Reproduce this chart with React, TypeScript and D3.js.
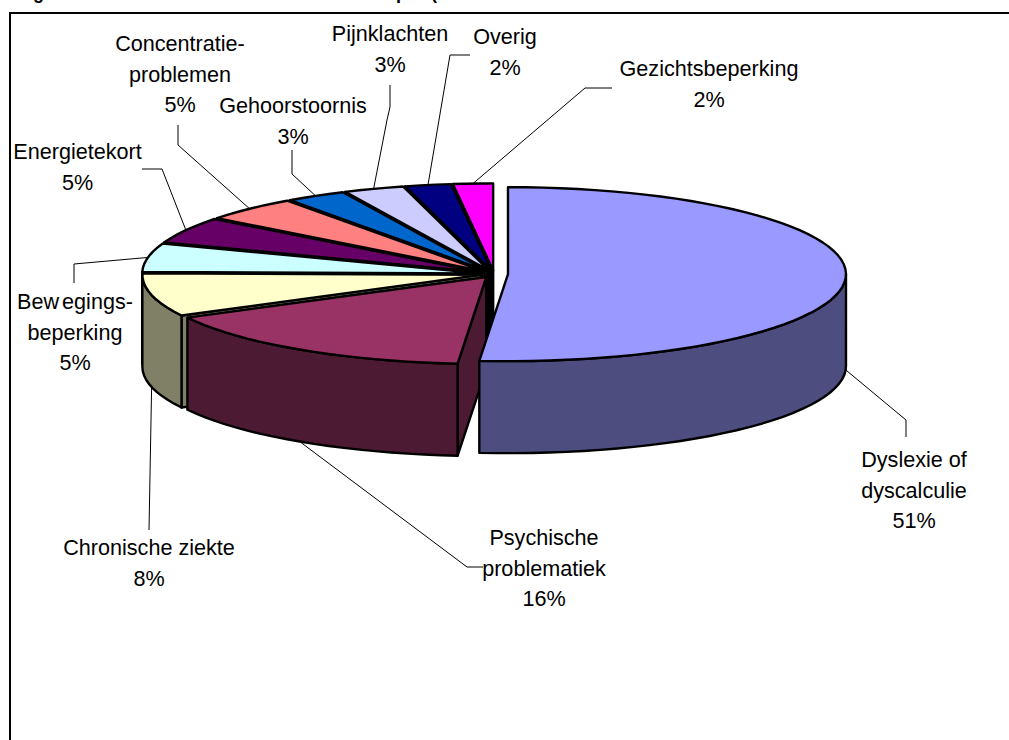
import React, { useEffect, useRef } from "react";
import * as d3 from "d3";

const categories = [
  "Dyslexie of dyscalculie",
  "Psychische problematiek",
  "Chronische ziekte",
  "Bewegingsbeperking",
  "Energietekort",
  "Concentratieproblemen",
  "Gehoorstoornis",
  "Pijnklachten",
  "Overig",
  "Gezichtsbeperking",
];
const values = [51.3, 15.9, 8.0, 5.3, 4.9, 4.6, 2.9, 2.9, 2.2, 1.9];
const percentLabels = ["51%", "16%", "8%", "5%", "5%", "5%", "3%", "3%", "2%", "2%"];
const labelLines = [
  ["Dyslexie of", "dyscalculie"],
  ["Psychische", "problematiek"],
  ["Chronische ziekte"],
  ["Bew egings-", "beperking"],
  ["Energietekort"],
  ["Concentratie-", "problemen"],
  ["Gehoorstoornis"],
  ["Pijnklachten"],
  ["Overig"],
  ["Gezichtsbeperking"],
];
const topColors = ["#9999FF", "#993366", "#FFFFCC", "#CCFFFF", "#660066", "#FF8080", "#0066CC", "#CCCCFF", "#000080", "#FF00FF"];
const sideColors = ["#4D4D80", "#4D1A33", "#808066", "#668080", "#330033", "#804040", "#003366", "#666680", "#000040", "#800080"];

// where each label sits and how its leader bends on the way there
const labelPlace = [
  { x: 914, y: 467, bend: [[906, 420], [906, 437]] },
  { x: 544, y: 545, bend: [[467, 567], [483, 567]] },
  { x: 149, y: 555, bend: [[149, 530]] },
  { x: 75, y: 309, bend: [[74, 264], [74, 283]] },
  { x: 77.5, y: 159, bend: [[162, 169], [142, 169]] },
  { x: 180, y: 51, bend: [[178, 145], [178, 125]] },
  { x: 293, y: 113, bend: [[292, 174], [292, 150]] },
  { x: 390, y: 41, bend: [[387, 120], [390, 107], [390, 85]] },
  { x: 505, y: 44, bend: [[450, 55], [470, 55]] },
  { x: 709, y: 76, bend: [[585, 88], [612, 88]] },
];

const width = 1009;
const height = 740;
const cx = 494;
const cy = 274;
const rx = 338;
const ry = 87;
const depth = 92;
const explode = 14;
const lineGap = 30.7;

export default function App() {
  const svgRef = useRef<SVGSVGElement>(null);

  useEffect(() => {
    const svg = d3.select(svgRef.current);
    svg.selectAll("*").remove();

    const arcs = d3.pie<number>().sort(null)(values);
    const deg = Math.PI / 180;
    const line = d3.line();

    // centre of a slice after pulling it out along its middle angle
    const apex = (a) => {
      const mid = (a.startAngle + a.endAngle) / 2;
      return [cx + explode * Math.sin(mid), cy - explode * Math.cos(mid) * (ry / rx)];
    };
    const rim = (c, angle, drop = 0) => [
      c[0] + rx * Math.sin(angle),
      c[1] - ry * Math.cos(angle) + drop,
    ];
    const sweep = (from, to) => {
      const steps = Math.max(1, Math.ceil((to - from) / (3 * deg)));
      return d3.range(steps + 1).map((i) => from + ((to - from) * i) / steps);
    };

    const face = (pts, fill) =>
      svg
        .append("path")
        .attr("d", line(pts) + "Z")
        .attr("fill", fill)
        .attr("stroke", "#000")
        .attr("stroke-width", 2.4)
        .attr("stroke-linejoin", "round");

    svg
      .append("rect")
      .attr("x", 10)
      .attr("y", 13)
      .attr("width", width + 20)
      .attr("height", height + 20)
      .attr("fill", "#fff")
      .attr("stroke", "#000")
      .attr("stroke-width", 2);

    // cut-off title line, only the descenders reach the page
    [["g", 33], ["p", 396], ["(", 431]].forEach(([t, x]) => {
      svg
        .append("text")
        .attr("x", x)
        .attr("y", -1)
        .attr("font-family", "Liberation Sans")
        .attr("font-weight", "bold")
        .attr("font-size", 18)
        .text(t);
    });

    // paint back to front: the far slices first, the big slice last
    const order = d3.range(arcs.length).slice(1).reverse().concat(0);
    order.forEach((i) => {
      const a = arcs[i];
      const c = apex(a);
      if (a.startAngle > 0) {
        face(
          [c, rim(c, a.startAngle), rim(c, a.startAngle, depth), [c[0], c[1] + depth]],
          sideColors[i]
        );
      }
      const from = Math.max(a.startAngle, Math.PI / 2);
      const to = Math.min(a.endAngle, (3 * Math.PI) / 2);
      if (to > from) {
        const outer = sweep(from, to);
        face(
          [
            ...outer.map((t) => rim(c, t)),
            ...outer.slice().reverse().map((t) => rim(c, t, depth)),
          ],
          sideColors[i]
        );
      }
      face([c, ...sweep(a.startAngle, a.endAngle).map((t) => rim(c, t))], topColors[i]);
    });

    arcs.forEach((a, i) => {
      const mid = (a.startAngle + a.endAngle) / 2;
      const front = mid > Math.PI / 2 && mid < (3 * Math.PI) / 2;
      const start = rim(apex(a), mid, front ? depth : 0);
      const place = labelPlace[i];
      svg
        .append("path")
        .attr("d", line([start, ...place.bend]))
        .attr("fill", "none")
        .attr("stroke", "#000")
        .attr("stroke-width", 1);

      const text = svg
        .append("text")
        .attr("text-anchor", "middle")
        .attr("font-family", "Liberation Sans")
        .attr("font-size", 21.6)
        .attr("fill", "#000");
      [...labelLines[i], percentLabels[i]].forEach((s, k) => {
        text
          .append("tspan")
          .attr("x", place.x)
          .attr("y", place.y + k * lineGap)
          .attr("word-spacing", s.startsWith("Bew") ? -3 : 0)
          .text(s);
      });
      text.append("title").text(categories[i]);
    });
  }, []);

  return (
    <svg
      ref={svgRef}
      width={width}
      height={height}
      style={{ position: "absolute", left: 0, top: 0, display: "block" }}
    />
  );
}
